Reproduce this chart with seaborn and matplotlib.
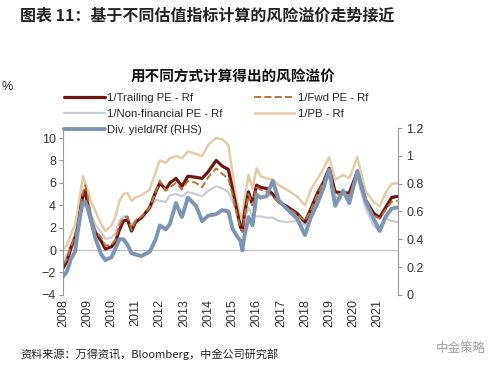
import pandas as pd
import matplotlib
matplotlib.use('Agg')
import matplotlib.pyplot as plt
import seaborn as sns

# Data (left axis in %, div yield on right axis)
dates = ['2008-01', '2008-03', '2008-05', '2008-07', '2008-08', '2008-09', '2008-10', '2008-11',
         '2008-12', '2009-01', '2009-03', '2009-05', '2009-08', '2009-10', '2010-01', '2010-03',
         '2010-05', '2010-07', '2010-09', '2010-11', '2011-01', '2011-04', '2011-08', '2011-11',
         '2012-01', '2012-04', '2012-06', '2012-09', '2012-12', '2013-03', '2013-07', '2013-10',
         '2014-01', '2014-05', '2014-08', '2014-11', '2015-01', '2015-03', '2015-05', '2015-06',
         '2015-07', '2015-09', '2015-11', '2016-01', '2016-03', '2016-06', '2016-09', '2016-12',
         '2017-04', '2017-09', '2018-01', '2018-04', '2018-07', '2018-10', '2019-01', '2019-04',
         '2019-08', '2019-11', '2020-03', '2020-07', '2020-11', '2021-02', '2021-05', '2021-08',
         '2021-11']

trailing_pe = [-1.6, -1.0, 0.2, 1.1, 1.8, 2.8, 4.0, 5.0, 5.3, 4.3, 2.6, 1.6, 0.8, 0.1, 0.3, 0.7,
               1.8, 2.6, 2.7, 1.7, 2.5, 2.9, 3.8, 5.2, 6.0, 5.4, 6.0, 6.4, 5.7, 6.6, 6.5, 6.4,
               7.0, 8.0, 7.5, 7.2, 5.5, 3.8, 2.1, 1.7, 3.2, 5.2, 4.1, 5.8, 5.6, 5.5, 5.0, 4.3,
               3.9, 3.3, 2.5, 3.7, 5.0, 6.0, 7.3, 5.2, 5.1, 5.1, 7.0, 4.5, 3.3, 2.9, 3.8, 4.7,
               4.8]
fwd_pe = [-1.3, -0.8, 0.3, 1.2, 2.0, 3.0, 4.3, 5.2, 5.8, 5.0, 3.0, 1.8, 1.1, 0.4, 0.5, 0.9,
          2.2, 2.9, 3.0, 1.8, 2.6, 3.0, 3.8, 5.2, 6.2, 5.3, 5.6, 6.0, 5.4, 6.2, 6.0, 5.6,
          6.5, 7.3, 6.8, 6.4, 5.0, 3.4, 2.0, 1.6, 3.0, 5.0, 4.0, 5.6, 5.4, 5.2, 4.8, 4.2,
          3.8, 3.2, 2.6, 3.6, 4.9, 6.0, 7.2, 5.0, 5.0, 4.8, 6.8, 4.3, 3.1, 2.8, 3.6, 4.3,
          4.4]
nonfin_pe = [-1.0, -0.4, 0.6, 1.5, 2.2, 3.2, 4.4, 5.3, 5.2, 4.6, 3.2, 2.3, 1.6, 1.0, 1.1, 1.5,
             2.6, 3.0, 3.0, 2.2, 2.7, 3.0, 3.6, 4.5, 4.4, 4.3, 4.9, 5.0, 4.8, 5.2, 5.0, 4.8,
             5.3, 5.7, 5.5, 5.2, 4.4, 3.6, 2.4, 2.0, 2.8, 3.8, 3.0, 3.0, 3.0, 2.9, 2.9, 2.6,
             2.5, 2.6, 2.2, 3.3, 4.5, 5.6, 6.8, 4.7, 5.0, 4.5, 6.5, 3.8, 2.2, 1.7, 2.8, 2.6,
             2.5]
pb = [-0.1, 0.5, 1.4, 2.3, 3.2, 4.3, 5.6, 6.6, 6.0, 5.5, 4.3, 3.5, 2.3, 1.7, 2.2, 2.9,
      4.4, 5.0, 5.1, 4.4, 4.7, 4.9, 5.4, 7.0, 8.0, 7.8, 8.2, 8.4, 8.2, 8.8, 8.6, 8.4,
      9.4, 10.0, 9.9, 9.4, 7.0, 4.7, 3.0, 2.9, 4.5, 6.7, 5.5, 7.3, 6.6, 6.4, 6.3, 5.8,
      5.4, 4.8, 4.0, 5.4, 6.3, 7.2, 8.3, 6.3, 6.7, 6.4, 8.3, 5.3, 4.3, 3.9, 5.1, 5.9,
      6.0]
div_yield = [0.13, 0.17, 0.26, 0.31, 0.42, 0.52, 0.61, 0.66, 0.67, 0.63, 0.53, 0.41, 0.29, 0.25,
             0.27, 0.33, 0.40, 0.40, 0.36, 0.30, 0.29, 0.28, 0.31, 0.40, 0.50, 0.47, 0.51, 0.66,
             0.56, 0.70, 0.64, 0.53, 0.57, 0.58, 0.61, 0.60, 0.48, 0.43, 0.39, 0.32, 0.42, 0.56,
             0.50, 0.72, 0.70, 0.71, 0.82, 0.68, 0.62, 0.55, 0.43, 0.56, 0.65, 0.76, 0.90, 0.64,
             0.75, 0.66, 0.89, 0.68, 0.55, 0.46, 0.56, 0.62, 0.63]

years = list(range(2008, 2022))

df = pd.DataFrame({'date': pd.to_datetime(dates), 'trailing': trailing_pe, 'fwd': fwd_pe,
                   'nonfin': nonfin_pe, 'pb': pb, 'div': div_yield})

sns.set_style('white')
plt.rcParams['font.family'] = ['Liberation Sans', 'Noto Sans CJK SC']
cjk = ['Noto Sans CJK SC', 'DejaVu Sans']

fig = plt.figure(figsize=(5, 3.7), dpi=100)
ax = fig.add_axes([0.126, 0.203, 0.67, 0.451])
ax2 = ax.twinx()

c_red, c_brown, c_gray, c_tan, c_blue = '#6E1515', '#B5743C', '#C8CDD5', '#E4CCAA', '#7E95B2'

ax.axhline(0, color='#BFBFBF', lw=0.9, zorder=1)
sns.lineplot(data=df, x='date', y='pb', ax=ax, color=c_tan, lw=1.8, label='1/PB - Rf', legend=False)
sns.lineplot(data=df, x='date', y='nonfin', ax=ax, color=c_gray, lw=1.6,
             label='1/Non-financial PE - Rf', legend=False)
sns.lineplot(data=df, x='date', y='trailing', ax=ax, color=c_red, lw=2.3,
             label='1/Trailing PE - Rf', legend=False)
sns.lineplot(data=df, x='date', y='fwd', ax=ax, color=c_brown, lw=1.4, linestyle='--',
             label='1/Fwd PE - Rf', legend=False)
sns.lineplot(data=df, x='date', y='div', ax=ax2, color=c_blue, lw=2.8,
             label='Div. yield/Rf (RHS)', legend=False)

start = pd.Timestamp('2008-01-01')
end = pd.Timestamp('2021-11-05')
ax.set_xlim(start, end)
ax.set_ylim(-4, 10.9)
ax.set_yticks(range(-4, 11, 2))
ax2.set_ylim(0, 1.2)
ax2.set_yticks([0, 0.2, 0.4, 0.6, 0.8, 1.0, 1.2])
ax2.set_yticklabels(['0', '0.2', '0.4', '0.6', '0.8', '1', '1.2'])

ax.set_xticks([pd.Timestamp(f'{y}-01-01') for y in years])
ax.set_xticklabels([str(y) for y in years], rotation=90, fontsize=9, color='#333333')
ax.tick_params(axis='x', length=0, pad=3)
ax.tick_params(axis='y', length=3, width=0.8, color='#999999', labelsize=9,
               labelcolor='#333333', pad=2, direction='out')
ax2.tick_params(axis='y', length=3, width=0.8, color='#999999', labelsize=9,
                labelcolor='#333333', pad=3, direction='out')
ax.set_xlabel('')
ax.set_ylabel('')
ax2.set_ylabel('')

for a in (ax, ax2):
    a.spines['top'].set_visible(False)
    a.spines['bottom'].set_visible(False)
    a.spines['left'].set_color('#999999')
    a.spines['right'].set_color('#999999')
    a.spines['left'].set_linewidth(0.8)
    a.spines['right'].set_linewidth(0.8)
    a.patch.set_alpha(0)
ax2.spines['left'].set_visible(False)
ax.spines['right'].set_visible(False)

# legend in Excel row order (matplotlib fills columns first)
h1, l1 = ax.get_legend_handles_labels()
h2, l2 = ax2.get_legend_handles_labels()
hd = dict(zip(l1 + l2, h1 + h2))
order = ['1/Trailing PE - Rf', '1/Non-financial PE - Rf', 'Div. yield/Rf (RHS)',
         '1/Fwd PE - Rf', '1/PB - Rf']
fig.legend([hd[k] for k in order], order, ncol=2, loc='upper left',
           bbox_to_anchor=(0.118, 0.762), frameon=False, fontsize=8.2,
           handlelength=3.6, handletextpad=0.25, columnspacing=2.7, labelspacing=0.55,
           borderaxespad=0)

fig.text(0.04, 0.958, '图表 11：基于不同估值指标计算的风险溢价走势接近', family=cjk,
         fontsize=11.5, fontweight='bold', color='#222222', va='center')
fig.text(0.466, 0.792, '用不同方式计算得出的风险溢价', family=cjk, fontsize=10.5,
         fontweight='bold', color='#111111', ha='center', va='center')
fig.text(0.04, 0.042, '资料来源：万得资讯，Bloomberg，中金公司研究部', family=cjk,
         fontsize=8, color='#222222', va='center')
fig.text(0.872, 0.058, '中金策略', family=cjk, fontsize=9, color='#A0A0A0', va='center')
fig.text(0.003, 0.765, '%', fontsize=9, color='#333333', va='center')

fig.savefig('out.png', dpi=100)
